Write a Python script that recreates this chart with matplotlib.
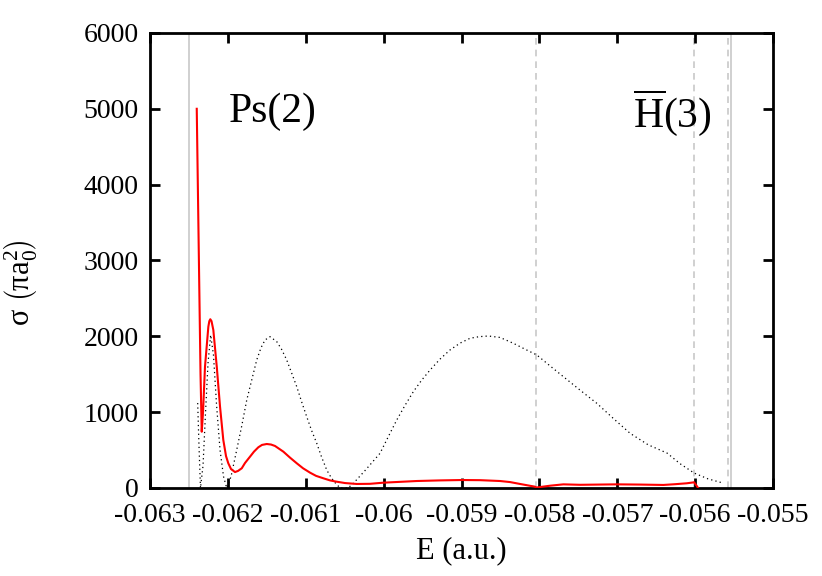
import numpy as np
import matplotlib
matplotlib.use("Agg")
import matplotlib.pyplot as plt

plt.rcParams['font.family'] = ['Liberation Serif', 'DejaVu Serif']
plt.rcParams['mathtext.fontset'] = 'custom'
plt.rcParams['mathtext.rm'] = 'Liberation Serif'
plt.rcParams['mathtext.it'] = 'Liberation Serif:italic'

# red curve (solid)
E_red = [-0.06240, -0.0623515, -0.062336, -0.0623194, -0.062294, -0.062251,
         -0.0622385, -0.062226, -0.0622103, -0.062187, -0.062143, -0.062101,
         -0.062059, -0.0620241, -0.061995, -0.0619599, -0.061909, -0.061870,
         -0.061822, -0.0617801, -0.061716, -0.0616645, -0.061609, -0.0615618,
         -0.061501, -0.0614462, -0.061395, -0.061288, -0.0612022, -0.061116,
         -0.0610353, -0.060945, -0.0608684, -0.060775, -0.0606886, -0.060603,
         -0.060496, -0.060346, -0.060175, -0.060004, -0.059575, -0.059276,
         -0.058994, -0.058762, -0.058506, -0.058377, -0.058249, -0.058056,
         -0.058047, -0.057864, -0.057693, -0.057478, -0.057007, -0.056708,
         -0.056409, -0.056258, -0.056108, -0.056014, -0.055980, -0.055963]
s_red = [5000, 1500, 742, 1000, 1600, 2127,
         2200, 2225, 2200, 2083, 1600, 1072,
         633, 420, 326, 250, 210, 225,
         260, 330, 413, 480, 537, 568,
         580, 573, 554, 479, 400, 326,
         260, 202, 160, 128, 100, 83,
         65, 53, 55, 70, 92, 100,
         105, 103, 92, 78, 53, 17,
         5, 30, 48, 42, 48, 45,
         40, 50, 62, 75, 26, 0]

# black dotted curve
E_dot = [-0.062388, -0.062371, -0.062352, -0.062319, -0.062287, -0.062255,
         -0.062221, -0.062185, -0.062146, -0.062101, -0.062056, -0.062015,
         -0.0619599, -0.061887, -0.061822, -0.061758, -0.061630, -0.0615746,
         -0.061523, -0.061459, -0.061373, -0.0613114, -0.061245, -0.061183,
         -0.061116, -0.0610546, -0.060988, -0.0609262, -0.060859, -0.0607978,
         -0.060731, -0.0606758, -0.060624, -0.060560, -0.060457, -0.060389,
         -0.0602392, -0.060047, -0.0599438, -0.059832, -0.0597255, -0.059619,
         -0.0595136, -0.059404, -0.059276, -0.059148, -0.0590193, -0.058891,
         -0.0587753, -0.058656, -0.058506, -0.058335, -0.0581846, -0.058034,
         -0.057864, -0.057693, -0.057478, -0.057264, -0.0570546, -0.056836,
         -0.0566051, -0.056361, -0.0561942, -0.056014, -0.0558347, -0.055642]
s_dot = [1120, 550, 0, 300, 1000, 1650,
         2018, 1750, 1100, 500, 150, 0,
         150, 501, 820, 1160, 1688, 1850,
         1952, 1995, 1930, 1830, 1688, 1520,
         1336, 1140, 940, 760, 589, 410,
         237, 140, 70, 0, 0, 62,
         230, 457, 670, 897, 1090, 1270,
         1420, 1556, 1700, 1820, 1910, 1974,
         1995, 2004, 1985, 1908, 1830, 1754,
         1610, 1468, 1290, 1117, 920, 721,
         570, 460, 320, 197, 120, 65]

# thresholds
solid_lines = [-0.0625, -0.05554]
dashed_lines = [-0.05805, -0.05601, -0.05558]

xticks = [-0.063, -0.062, -0.061, -0.06, -0.059, -0.058, -0.057, -0.056, -0.055]
xticklabels = ['-0.063', '-0.062', '-0.061', '-0.06', '-0.059', '-0.058',
               '-0.057', '-0.056', '-0.055']
yticks = [0, 1000, 2000, 3000, 4000, 5000, 6000]

fig = plt.figure(figsize=(8.22, 5.76), dpi=100)
ax = fig.add_axes([0.1825, 0.1528, 0.758, 0.79])

for xv in solid_lines:
    ax.axvline(xv, color='#c8c8c8', lw=1.2, zorder=1)
for xv in dashed_lines:
    ax.axvline(xv, color='#c8c8c8', lw=1.2, ls=(0, (4, 3)), zorder=1)

ax.plot(E_dot, s_dot, color='black', lw=0.9, ls=(0, (1, 2.5)), zorder=2)
ax.plot(E_red, s_red, color='red', lw=1.5, zorder=3)

ax.set_xlim(-0.063, -0.055)
ax.set_ylim(0, 6000)
ax.set_xticks(xticks)
ax.set_xticklabels(xticklabels)
ax.set_yticks(yticks)
ax.tick_params(direction='in', length=7, width=2, labelsize=20,
               top=True, right=True)
ax.tick_params(axis='x', pad=11)
ax.tick_params(axis='y', pad=8)
for sp in ax.spines.values():
    sp.set_linewidth(2)

ax.set_xlabel('E (a.u.)', fontsize=22, labelpad=6)
ax.set_ylabel(r'σ $\left(\mathrm{πa}_0^2\right)$', fontsize=22)
ax.yaxis.set_label_coords(-0.177, 0.45)

ax.text(-0.06199, 4830, 'Ps(2)', fontsize=30)
ax.text(-0.05680, 4760, r'$\overline{\mathrm{H}}$(3)', fontsize=30)

fig.savefig('out.png', dpi=100)
